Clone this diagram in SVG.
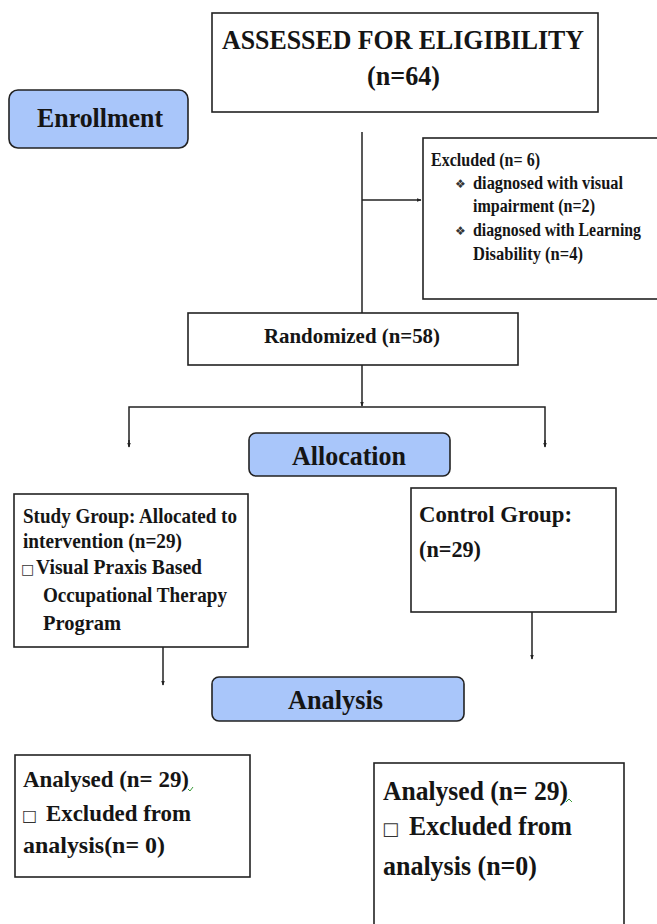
<svg xmlns="http://www.w3.org/2000/svg" width="657" height="924" viewBox="0 0 657 924">
<style>
  .box{fill:#fff;stroke:#222;stroke-width:1.6}
  .stage{fill:#a9c6fa;stroke:#222;stroke-width:1.6}
  .t{font-family:"Liberation Serif","Times New Roman",serif;font-weight:bold;fill:#151515}
  .c{text-anchor:middle}
  .ln{fill:none;stroke:#222;stroke-width:1.5}
  .sym{font-family:"DejaVu Sans",sans-serif;font-weight:normal;fill:#333}
</style>
<defs>
  <marker id="ah" viewBox="0 0 8 8" refX="7" refY="4" markerWidth="5" markerHeight="5" orient="auto" markerUnits="userSpaceOnUse">
    <path d="M0,1 L8,4 L0,7 z" fill="#222"/>
  </marker>
</defs>
<rect width="657" height="924" fill="#fff"/>

<g id="connectors">
  <line class="ln" x1="362" y1="132" x2="362" y2="313"/>
  <line class="ln" x1="362" y1="200" x2="421" y2="200" marker-end="url(#ah)"/>
  <line class="ln" x1="362" y1="365" x2="362" y2="406" marker-end="url(#ah)"/>
  <polyline class="ln" points="129,446 129,407 545,407 545,446"/>
  <line class="ln" x1="129" y1="440" x2="129" y2="447" marker-end="url(#ah)"/>
  <line class="ln" x1="545" y1="440" x2="545" y2="447" marker-end="url(#ah)"/>
  <line class="ln" x1="163" y1="622" x2="163" y2="685" marker-end="url(#ah)"/>
  <line class="ln" x1="532" y1="612" x2="532" y2="659" marker-end="url(#ah)"/>
</g>

<g id="enrollment">
  <rect class="stage" x="9" y="90" width="179" height="58" rx="9"/>
  <text class="t" x="37" y="127" font-size="27" textLength="126" lengthAdjust="spacingAndGlyphs">Enrollment</text>
</g>

<g id="assessed">
  <rect class="box" x="212" y="13" width="386" height="99"/>
  <text class="t" x="222" y="49" font-size="28" textLength="362" lengthAdjust="spacingAndGlyphs">ASSESSED FOR ELIGIBILITY</text>
  <text class="t" x="367" y="85" font-size="28" textLength="73" lengthAdjust="spacingAndGlyphs">(n=64)</text>
</g>

<g id="excluded">
  <rect class="box" x="423" y="138" width="240" height="161"/>
  <text class="t" x="431" y="166" font-size="18" textLength="109" lengthAdjust="spacingAndGlyphs">Excluded (n= 6)</text>
  <text class="sym" x="455" y="188" font-size="12">❖</text>
  <text class="t" x="473" y="189" font-size="18" textLength="150" lengthAdjust="spacingAndGlyphs">diagnosed with visual</text>
  <text class="t" x="473" y="212" font-size="18" textLength="122" lengthAdjust="spacingAndGlyphs">impairment (n=2)</text>
  <text class="sym" x="455" y="235" font-size="12">❖</text>
  <text class="t" x="473" y="236" font-size="18" textLength="168" lengthAdjust="spacingAndGlyphs">diagnosed with Learning</text>
  <text class="t" x="473" y="260" font-size="18" textLength="110" lengthAdjust="spacingAndGlyphs">Disability (n=4)</text>
</g>

<g id="randomized">
  <rect class="box" x="188" y="313" width="330" height="52"/>
  <text class="t" x="264" y="343" font-size="21" textLength="176" lengthAdjust="spacingAndGlyphs">Randomized (n=58)</text>
</g>

<g id="allocation">
  <rect class="stage" x="249" y="433" width="201" height="43" rx="7"/>
  <text class="t" x="292" y="465" font-size="27" textLength="114" lengthAdjust="spacingAndGlyphs">Allocation</text>
</g>

<g id="study-group">
  <rect class="box" x="14" y="494" width="234" height="153"/>
  <text class="t" x="23" y="523" font-size="21" textLength="214" lengthAdjust="spacingAndGlyphs">Study Group: Allocated to</text>
  <text class="t" x="23" y="548" font-size="21" textLength="159" lengthAdjust="spacingAndGlyphs">intervention (n=29)</text>
  <text class="sym" x="21" y="574" font-size="14">□</text>
  <text class="t" x="36" y="574" font-size="21" textLength="166" lengthAdjust="spacingAndGlyphs">Visual Praxis Based</text>
  <text class="t" x="43" y="602" font-size="21" textLength="184" lengthAdjust="spacingAndGlyphs">Occupational Therapy</text>
  <text class="t" x="43" y="630" font-size="21" textLength="78" lengthAdjust="spacingAndGlyphs">Program</text>
</g>

<g id="control-group">
  <rect class="box" x="411" y="488" width="205" height="124"/>
  <text class="t" x="419" y="522" font-size="23" textLength="153" lengthAdjust="spacingAndGlyphs">Control Group:</text>
  <text class="t" x="419" y="557" font-size="23" textLength="62" lengthAdjust="spacingAndGlyphs">(n=29)</text>
</g>

<g id="analysis">
  <rect class="stage" x="212" y="677" width="252" height="44" rx="7"/>
  <text class="t" x="288" y="709" font-size="27" textLength="95" lengthAdjust="spacingAndGlyphs">Analysis</text>
</g>

<g id="analysed-study">
  <rect class="box" x="15" y="755" width="235" height="122"/>
  <text class="t" x="23" y="787" font-size="24" textLength="166" lengthAdjust="spacingAndGlyphs">Analysed (n= 29)</text>
  <text class="sym" x="22" y="821" font-size="16">□</text>
  <text class="t" x="46" y="821" font-size="24" textLength="145" lengthAdjust="spacingAndGlyphs">Excluded from</text>
  <text class="t" x="23" y="853" font-size="24" textLength="142" lengthAdjust="spacingAndGlyphs">analysis(n= 0)</text>
  <path d="M188,789 l2,2 l3,-4" fill="none" stroke="#3a9a3a" stroke-width="1"/>
</g>

<g id="analysed-control">
  <rect class="box" x="374" y="763" width="250" height="170"/>
  <text class="t" x="383" y="800" font-size="27" textLength="185" lengthAdjust="spacingAndGlyphs">Analysed (n= 29)</text>
  <text class="sym" x="382" y="835" font-size="18">□</text>
  <text class="t" x="409" y="835" font-size="27" textLength="163" lengthAdjust="spacingAndGlyphs">Excluded from</text>
  <text class="t" x="383" y="875" font-size="27" textLength="154" lengthAdjust="spacingAndGlyphs">analysis (n=0)</text>
  <path d="M566,802 l3,-3 l3,3" fill="none" stroke="#3a9a3a" stroke-width="1"/>
</g>
</svg>
